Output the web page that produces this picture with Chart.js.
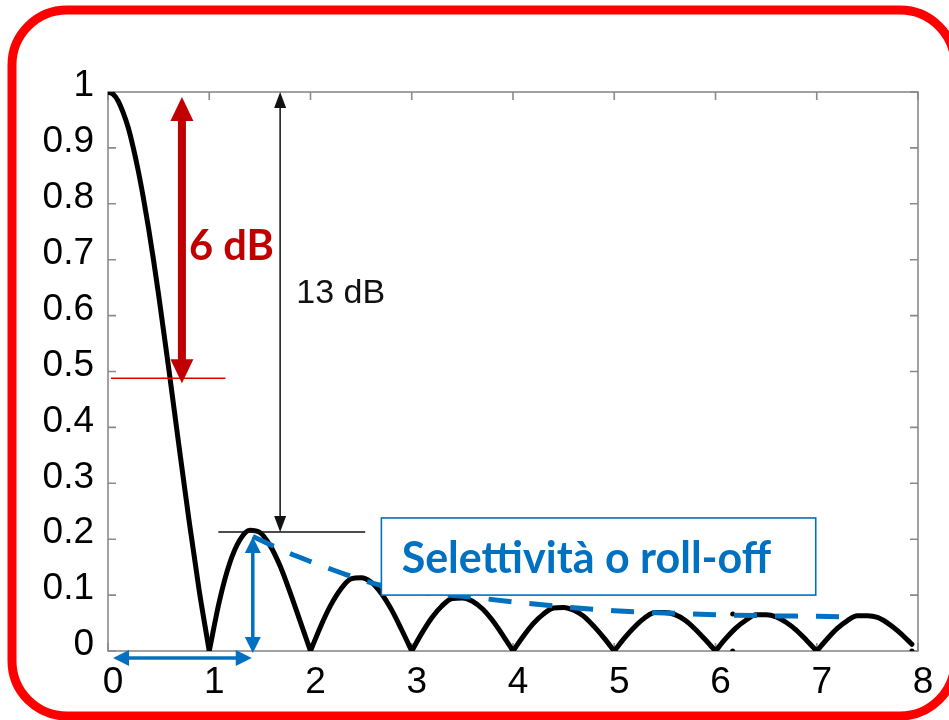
<!DOCTYPE html>
<html>
<head>
<meta charset="utf-8">
<script src="https://cdn.jsdelivr.net/npm/chart.js@4.4.1/dist/chart.umd.min.js"></script>
<style>
  html, body { margin: 0; padding: 0; background: #fff; }
  #wrap { width: 949px; height: 720px; }
</style>
</head>
<body>
<div id="wrap"><canvas id="myChart"></canvas></div>
<script>
// tick labels
const xTickLabels = ['0', '1', '2', '3', '4', '5', '6', '7', '8'];
const yTickLabels = ['0', '0.1', '0.2', '0.3', '0.4', '0.5', '0.6', '0.7', '0.8', '0.9', '1'];

// main curve
const curveX = [
  0, 0.05, 0.1, 0.15, 0.2, 0.25, 0.3, 0.35, 0.4, 0.45, 0.5, 0.6, 0.7, 0.8, 0.9,
  1, 1.1, 1.2, 1.3, 1.4, 1.5, 1.6, 1.7, 1.8, 1.9,
  2, 2.1, 2.2, 2.3, 2.4, 2.5, 2.6, 2.7, 2.8, 2.9,
  3, 3.1, 3.2, 3.3, 3.4, 3.5, 3.6, 3.7, 3.8, 3.9,
  4, 4.1, 4.2, 4.3, 4.4, 4.5, 4.6, 4.7, 4.8, 4.9,
  5, 5.1, 5.2, 5.3, 5.4, 5.5, 5.6, 5.7, 5.8, 5.9,
  6, 6.1, 6.2, 6.3, 6.4, 6.5, 6.6, 6.7, 6.8, 6.9,
  7, 7.1, 7.2, 7.3, 7.4, 7.5, 7.6, 7.7, 7.8, 7.9, 7.94
];
const curveY = [
  1, 0.996, 0.984, 0.963, 0.936, 0.900, 0.858, 0.810, 0.757, 0.699, 0.637, 0.505, 0.368, 0.234, 0.109,
  0, 0.089, 0.156, 0.198, 0.216, 0.212, 0.189, 0.152, 0.104, 0.052,
  0, 0.044, 0.082, 0.111, 0.129, 0.131, 0.123, 0.103, 0.074, 0.038,
  0, 0.032, 0.060, 0.081, 0.094, 0.095, 0.089, 0.075, 0.054, 0.028,
  0, 0.026, 0.049, 0.066, 0.077, 0.078, 0.073, 0.062, 0.044, 0.023,
  0, 0.023, 0.043, 0.059, 0.069, 0.069, 0.065, 0.055, 0.039, 0.020,
  0, 0.022, 0.041, 0.055, 0.065, 0.065, 0.061, 0.051, 0.037, 0.019,
  0, 0.021, 0.040, 0.054, 0.063, 0.063, 0.060, 0.050, 0.036, 0.019, 0.012
];

// dashed roll-off envelope
const envX = [1.43, 1.75, 2.0, 2.3, 2.6, 3.0, 3.5, 4.0, 4.5, 5.0, 5.5, 6.0, 6.5, 7.0, 7.38];
const envY = [0.205, 0.178, 0.160, 0.140, 0.122, 0.107, 0.098, 0.088, 0.079, 0.072, 0.068, 0.065, 0.063, 0.062, 0.061];

// stray dots in the original
const dotX = [6.17, 6.17, 7.94];
const dotY = [0.066, 0, 0];

const toPoints = (xs, ys) => xs.map((x, i) => ({ x: x, y: ys[i] }));

// split the curve into lobes at the zeros so each lobe is smooth but the
// cusps at the zeros stay sharp
function splitLobes(xs, ys) {
  const lobes = [];
  let cur = [];
  xs.forEach((x, i) => {
    cur.push({ x: x, y: ys[i] });
    if (ys[i] === 0 && cur.length > 1) {
      lobes.push(cur);
      cur = [{ x: x, y: ys[i] }];
    }
  });
  if (cur.length > 1) lobes.push(cur);
  return lobes;
}

// helper to draw a (double) arrow between two pixel points
function arrow(ctx, x1, y1, x2, y2, lw, headW, headL, color, both) {
  const ang = Math.atan2(y2 - y1, x2 - x1);
  const cos = Math.cos(ang), sin = Math.sin(ang);
  const sx = both ? x1 + cos * headL * 0.9 : x1;
  const sy = both ? y1 + sin * headL * 0.9 : y1;
  const ex = x2 - cos * headL * 0.9, ey = y2 - sin * headL * 0.9;
  ctx.save();
  ctx.strokeStyle = color;
  ctx.fillStyle = color;
  ctx.lineWidth = lw;
  ctx.beginPath();
  ctx.moveTo(sx, sy);
  ctx.lineTo(ex, ey);
  ctx.stroke();
  const head = (tx, ty, dx, dy) => {
    const bx = tx - dx * headL, by = ty - dy * headL;
    ctx.beginPath();
    ctx.moveTo(tx, ty);
    ctx.lineTo(bx - dy * headW / 2, by + dx * headW / 2);
    ctx.lineTo(bx + dy * headW / 2, by - dx * headW / 2);
    ctx.closePath();
    ctx.fill();
  };
  head(x2, y2, cos, sin);
  if (both) head(x1, y1, -cos, -sin);
  ctx.restore();
}

// axes box with inward ticks (matlab style)
const boxPlugin = {
  id: 'box',
  beforeDatasetsDraw(chart) {
    const { ctx, chartArea: a, scales } = chart;
    ctx.save();
    ctx.strokeStyle = '#8a8a8a';
    ctx.lineWidth = 1.6;
    ctx.strokeRect(a.left, a.top, a.right - a.left, a.bottom - a.top);
    ctx.beginPath();
    scales.x.ticks.forEach(t => {
      const px = scales.x.getPixelForValue(t.value);
      ctx.moveTo(px, a.bottom); ctx.lineTo(px, a.bottom - 8);
      ctx.moveTo(px, a.top); ctx.lineTo(px, a.top + 8);
    });
    scales.y.ticks.forEach(t => {
      const py = scales.y.getPixelForValue(t.value);
      ctx.moveTo(a.left, py); ctx.lineTo(a.left + 8, py);
      ctx.moveTo(a.right, py); ctx.lineTo(a.right - 8, py);
    });
    ctx.stroke();
    ctx.restore();
  }
};

// annotations, all placed in data units
const overlayPlugin = {
  id: 'overlay',
  afterDatasetsDraw(chart) {
    const { ctx, scales } = chart;
    const X = v => scales.x.getPixelForValue(v);
    const Y = v => scales.y.getPixelForValue(v);

    // 6 dB
    ctx.save();
    ctx.strokeStyle = '#e00000';
    ctx.lineWidth = 1.5;
    ctx.beginPath();
    ctx.moveTo(X(0.03), Y(0.488));
    ctx.lineTo(X(1.16), Y(0.488));
    ctx.stroke();
    ctx.restore();
    arrow(ctx, X(0.73), Y(0.991), X(0.73), Y(0.479), 8, 23, 24, '#c00000', true);
    ctx.save();
    ctx.fillStyle = '#c00000';
    ctx.font = 'bold 42px Lato, "Open Sans", sans-serif';
    ctx.textBaseline = 'alphabetic';
    ctx.fillText('6 dB', X(0.80), Y(0.70), 85);
    ctx.restore();

    // 13 dB
    arrow(ctx, X(1.70), Y(1.0), X(1.70), Y(0.213), 1.5, 12, 16, '#111', true);
    ctx.save();
    ctx.strokeStyle = '#111';
    ctx.lineWidth = 1.5;
    ctx.beginPath();
    ctx.moveTo(X(1.09), Y(0.213));
    ctx.lineTo(X(2.54), Y(0.213));
    ctx.stroke();
    ctx.fillStyle = '#111';
    ctx.font = '34px "Liberation Sans", Arial, sans-serif';
    ctx.fillText('13 dB', X(1.86), Y(0.6225));
    ctx.restore();

    // roll-off label box
    ctx.save();
    ctx.fillStyle = '#fff';
    const bx1 = X(2.70), bx2 = X(6.99), by1 = Y(0.238), by2 = Y(0.100);
    ctx.fillRect(bx1, by1, bx2 - bx1, by2 - by1);
    ctx.strokeStyle = '#0070c0';
    ctx.lineWidth = 1.6;
    ctx.strokeRect(bx1, by1, bx2 - bx1, by2 - by1);
    ctx.fillStyle = '#0070c0';
    ctx.font = 'bold 43px Lato, "Open Sans", sans-serif';
    ctx.fillText('Selettività o roll-off', X(2.90), Y(0.1395), 385);
    ctx.restore();

    // blue arrows
    arrow(ctx, X(1.43), Y(0.204), X(1.43), Y(-0.0036), 3.5, 16, 16, '#0070c0', true);
    arrow(ctx, X(0.05), Y(-0.0125), X(1.42), Y(-0.0125), 3.5, 16, 16, '#0070c0', true);
  },
  afterDraw(chart) {
    // red rounded frame
    const ctx = chart.ctx;
    ctx.save();
    ctx.strokeStyle = '#ff0000';
    ctx.lineWidth = 9;
    ctx.beginPath();
    ctx.roundRect(12, 10, 943, 706, 55);
    ctx.stroke();
    ctx.restore();
  }
};

const tickFont = { family: '"Liberation Sans", Arial, sans-serif', size: 37 };

const lobeSets = splitLobes(curveX, curveY).map((pts, i) => ({
  label: 'sinc ' + i,
  data: pts,
  borderColor: '#000',
  borderWidth: 5,
  borderJoinStyle: 'round',
  borderCapStyle: 'round',
  pointRadius: 0,
  cubicInterpolationMode: 'monotone'
}));

const myChart = new Chart(document.getElementById('myChart'), {
  type: 'line',
  data: {
    datasets: [
      {
        label: 'roll-off',
        data: toPoints(envX, envY),
        borderColor: '#0070c0',
        borderWidth: 5,
        borderDash: [23, 18],
        pointRadius: 0,
        cubicInterpolationMode: 'monotone'
      },
      {
        label: 'dots',
        data: toPoints(dotX, dotY),
        showLine: false,
        pointRadius: 2.5,
        pointBackgroundColor: '#000',
        pointBorderWidth: 0
      },
      ...lobeSets
    ]
  },
  options: {
    responsive: true,
    maintainAspectRatio: false,
    animation: false,
    layout: { padding: { left: 0, top: 92, right: 31, bottom: 0 } },
    plugins: {
      legend: { display: false },
      tooltip: { enabled: false }
    },
    scales: {
      x: {
        type: 'linear',
        min: 0,
        max: 8,
        afterFit: s => { s.height = 69; },
        grid: { display: false, drawTicks: false },
        border: { display: false },
        ticks: {
          stepSize: 1,
          padding: 10,
          labelOffset: 5,
          color: '#000',
          font: tickFont,
          maxRotation: 0,
          callback: (v, i) => xTickLabels[i]
        }
      },
      y: {
        min: 0,
        max: 1,
        afterFit: s => { s.width = 108; },
        grid: { display: false, drawTicks: false },
        border: { display: false },
        ticks: {
          stepSize: 0.1,
          padding: 14,
          labelOffset: -6,
          color: '#000',
          font: tickFont,
          callback: (v, i) => yTickLabels[i]
        }
      }
    }
  },
  plugins: [boxPlugin, overlayPlugin]
});
</script>
</body>
</html>
